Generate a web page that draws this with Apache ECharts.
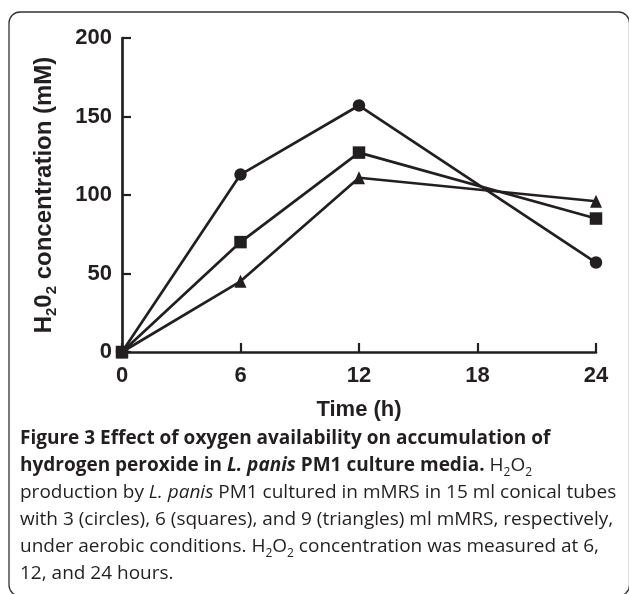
<!DOCTYPE html>
<html>
<head>
<meta charset="utf-8">
<script src="https://cdn.jsdelivr.net/npm/echarts@6/dist/echarts.min.js"></script>
<style>
html,body{margin:0;padding:0;background:#fff;}
#c{width:629px;height:594px;}
</style>
</head>
<body>
<div id="c"></div>
<script>
// Data
var timeHours = [0, 6, 12, 24];
var circles3ml = [0, 113, 157, 57];
var squares6ml = [0, 70, 127, 85];
var triangles9ml = [0, 45, 111, 96];
var xTicks = [0, 6, 12, 18, 24];
var yTicks = [0, 50, 100, 150, 200];

var INK = '#231f20';
function pairs(xs, ys) { return xs.map(function (x, i) { return [x, ys[i]]; }); }

var chart = echarts.init(document.getElementById('c'), null, {renderer: 'canvas'});

var axisFont = {fontFamily: 'Liberation Sans', fontWeight: 'bold', fontSize: 22, color: INK};
var CF = 19, LH = 27;
var capBold = {fontFamily: 'Open Sans', fontWeight: 'bold', fontSize: CF, color: INK, lineHeight: LH};
var capBoldIt = {fontFamily: 'Open Sans', fontWeight: 'bold', fontStyle: 'italic', fontSize: CF, color: INK, lineHeight: LH};
var capReg = {fontFamily: 'Open Sans', fontSize: CF, color: '#3a3a3a', lineHeight: LH};
var capIt = {fontFamily: 'Open Sans', fontStyle: 'italic', fontSize: CF, color: '#3a3a3a', lineHeight: LH};
var capSub = {fontFamily: 'Open Sans', fontSize: 12, color: '#3a3a3a', lineHeight: 14, verticalAlign: 'bottom'};
var capRich = {b: capBold, bi: capBoldIt, r: capReg, i: capIt, s: capSub};

var captionLines = [
  '{b|Figure 3 Effect of oxygen availability on accumulation of}',
  '{b|hydrogen peroxide in }{bi|L. panis}{b| PM1 culture media.}{r| H}{s|2}{r|O}{s|2}',
  '{r|production by }{i|L. panis}{r| PM1 cultured in mMRS in 15 ml conical tubes}',
  '{r|with 3 (circles), 6 (squares), and 9 (triangles) ml mMRS, respectively,}',
  '{r|under aerobic conditions. H}{s|2}{r|O}{s|2}{r| concentration was measured at 6,}',
  '{r|12, and 24 hours.}'
];
var captionY = [437, 464, 491, 518, 545, 572];

var graphics = [{
  type: 'rect',
  shape: {x: 9, y: 12, width: 620.5, height: 584, r: 11},
  style: {fill: 'none', stroke: '#333', lineWidth: 1.3},
  silent: true
}];
captionLines.forEach(function (t, i) {
  graphics.push({
    type: 'text',
    left: 20,
    top: captionY[i] - 13 + 5,
    style: {text: t, rich: capRich, fill: INK}
  });
});

var seriesStyle = function (name, data, symbol, size) {
  return {
    name: name, type: 'line', data: data, symbol: symbol, symbolSize: size,
    showSymbol: true, clip: false,
    lineStyle: {color: INK, width: 2.7},
    itemStyle: {color: INK},
    z: 3
  };
};

chart.setOption({
  animation: false,
  backgroundColor: '#fff',
  grid: {left: 122, right: 33, top: 38, bottom: 242, outerBoundsMode: 'none'},
  xAxis: {
    type: 'value', min: 0, max: 24, interval: 6,
    name: 'Time (h)', nameLocation: 'middle', nameGap: 47,
    nameTextStyle: axisFont,
    axisLine: {show: true, onZero: false, lineStyle: {color: INK, width: 2.7}},
    axisTick: {show: true, inside: true, length: 9, lineStyle: {color: INK, width: 2.2}},
    axisLabel: Object.assign({margin: 13}, axisFont),
    splitLine: {show: false}
  },
  yAxis: {
    type: 'value', min: 0, max: 200, interval: 50,
    name: '{n|H}{s|2}{n|0}{s|2}{n| concentration (mM)}',
    nameLocation: 'middle', nameGap: 63, nameRotate: 90,
    nameTextStyle: {
      rich: {
        n: {fontFamily: 'Liberation Sans', fontWeight: 'bold', fontSize: 24, color: INK, lineHeight: 30},
        s: {fontFamily: 'Liberation Sans', fontWeight: 'bold', fontSize: 15, color: INK, lineHeight: 15, verticalAlign: 'bottom'}
      }
    },
    axisLine: {show: true, onZero: false, lineStyle: {color: INK, width: 2.7}},
    axisTick: {show: true, inside: true, length: 9, lineStyle: {color: INK, width: 2.2}},
    axisLabel: Object.assign({margin: 10}, axisFont),
    splitLine: {show: false}
  },
  series: [
    seriesStyle('9 ml (triangles)', pairs(timeHours, triangles9ml), 'triangle', [12, 13]),
    seriesStyle('3 ml (circles)', pairs(timeHours, circles3ml), 'circle', 12.5),
    seriesStyle('6 ml (squares)', pairs(timeHours, squares6ml), 'rect', 12.5)
  ],
  graphic: graphics
});
</script>
</body>
</html>
